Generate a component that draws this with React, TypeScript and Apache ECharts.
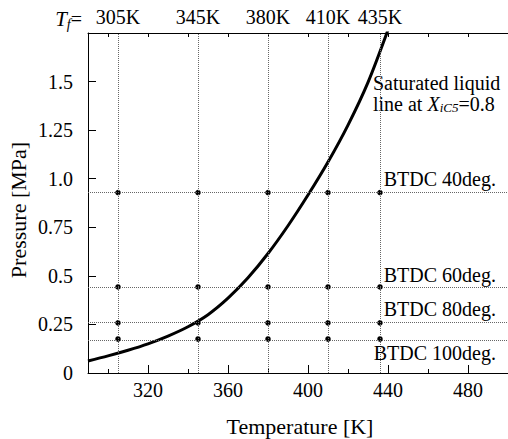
import React, { useEffect, useRef } from 'react';
import * as echarts from 'echarts';

// Saturated liquid line (X_iC5 = 0.8): temperature [K] vs pressure [MPa]
const curveT = [290, 300, 310, 320, 330, 340, 350, 360, 370, 380, 390, 400, 410, 420, 430, 440];
const curveP = [0.062, 0.088, 0.117, 0.150, 0.190, 0.238, 0.300, 0.385, 0.490, 0.615, 0.758, 0.916, 1.086, 1.276, 1.496, 1.766];

// Fuel temperatures Tf (vertical dotted lines)
const tfTemps = [305, 345, 380, 410, 436];
const tfLabels = ['305K', '345K', '380K', '410K', '435K'];

// Pressures at injection timings (horizontal dotted lines)
const btdcP = [0.929, 0.443, 0.258, 0.175];
const btdcLabels = ['BTDC 40deg.', 'BTDC 60deg.', 'BTDC 80deg.', 'BTDC 100deg.'];

// Axis ticks
const xMajor = [320, 360, 400, 440, 480];
const xMinor = [300, 340, 380, 420, 460, 500];
const xTop = [300, 320, 340, 360, 380, 400, 420, 440, 460, 480, 500];

const FONT = 'Liberation Serif';

export default function App() {
  const ref = useRef<HTMLDivElement>(null);
  useEffect(() => {
    const chart = echarts.init(ref.current!, null, { renderer: 'svg' });
    const black = '#000';
    const xBase: any = { type: 'value', min: 290, max: 500, splitLine: { show: false } };
    const dots: number[][] = [];
    tfTemps.forEach((t) => btdcP.forEach((p) => dots.push([t, p])));
    const richLabel = { a: { fontFamily: FONT, fontSize: 20, color: black } };

    chart.setOption({
      animation: false,
      textStyle: { fontFamily: FONT, color: black },
      grid: { left: 88, right: 0, top: 33, bottom: 66 },
      xAxis: [
        {
          ...xBase,
          position: 'bottom',
          axisLine: { show: true, lineStyle: { color: black, width: 1 } },
          axisTick: { show: true, inside: true, length: 8, customValues: xMajor, lineStyle: { color: black } },
          axisLabel: {
            customValues: xMajor,
            formatter: (v: number) => `{a|${v}}`,
            rich: richLabel,
            fontFamily: FONT,
            fontSize: 20,
            color: black,
            margin: 7,
          },
        },
        {
          ...xBase,
          position: 'bottom',
          axisLine: { show: false },
          axisTick: { show: true, inside: true, length: 4, customValues: xMinor, lineStyle: { color: black } },
          axisLabel: { show: false },
        },
        {
          ...xBase,
          position: 'top',
          axisLine: { show: true, lineStyle: { color: black, width: 1 } },
          axisTick: { show: true, inside: true, length: 4, customValues: xTop, lineStyle: { color: black } },
          axisLabel: {
            customValues: tfTemps,
            formatter: (v: number) => `{a|${tfLabels[tfTemps.indexOf(v)] ?? ''}}`,
            rich: richLabel,
            fontFamily: FONT,
            fontSize: 20,
            color: black,
            margin: 6,
          },
        },
      ],
      yAxis: {
        type: 'value',
        min: 0,
        max: 1.75,
        interval: 0.25,
        splitLine: { show: false },
        axisLine: { show: true, lineStyle: { color: black, width: 1 } },
        axisTick: { show: true, inside: true, length: 8, lineStyle: { color: black } },
        axisLabel: {
          fontFamily: FONT,
          fontSize: 20,
          color: black,
          margin: 15,
          rich: richLabel,
          formatter: (v: number) => {
            if (Math.abs(v - 1.75) < 1e-9) return '';
            const s = v === 0 ? '0' : Math.round(v * 4) % 2 === 0 ? v.toFixed(1) : String(v);
            return `{a|${s}}`;
          },
        },
      },
      series: [
        {
          type: 'scatter',
          xAxisIndex: 0,
          yAxisIndex: 0,
          data: dots,
          symbolSize: 5.5,
          itemStyle: { color: black, opacity: 1 },
          z: 2,
          markLine: {
            silent: true,
            symbol: 'none',
            animation: false,
            lineStyle: { type: 'dotted', color: '#666', width: 1 },
            data: [
              ...tfTemps.map((t) => ({ xAxis: t, label: { show: false } })),
              ...btdcP.map((p, i) => ({
                yAxis: p,
                label: {
                  show: true,
                  formatter: btdcLabels[i],
                  position: i === btdcP.length - 1 ? 'insideEndBottom' : 'insideEndTop',
                  fontFamily: FONT,
                  fontSize: 20,
                  color: black,
                  padding: [0, 9, 0, 0],
                  distance: 3,
                },
              })),
            ],
          },
        },
        {
          type: 'line',
          xAxisIndex: 0,
          yAxisIndex: 0,
          data: curveT.map((t, i) => [t, curveP[i]]),
          smooth: 0.3,
          showSymbol: false,
          symbol: 'none',
          lineStyle: { color: black, width: 3 },
          z: 3,
        },
      ],
      graphic: [
        {
          type: 'text',
          x: 82,
          y: 19,
          style: {
            text: '{i|T}{s|f}{n|=}',
            align: 'right',
            verticalAlign: 'middle',
            fontFamily: FONT,
            fontSize: 20,
            fill: black,
            rich: {
              i: { fontFamily: FONT, fontStyle: 'italic', fontSize: 21, lineHeight: 24 },
              s: { fontFamily: FONT, fontStyle: 'italic', fontSize: 14, lineHeight: 10, verticalAlign: 'bottom' },
              n: { fontFamily: FONT, fontSize: 20, lineHeight: 24 },
            },
          },
        },
        {
          type: 'text',
          x: 373,
          y: 72,
          style: {
            text: 'Saturated liquid\nline at {i|X}{s|iC5}=0.8',
            align: 'left',
            verticalAlign: 'top',
            fontFamily: FONT,
            fontSize: 20,
            lineHeight: 21,
            fill: black,
            rich: {
              i: { fontFamily: FONT, fontStyle: 'italic', fontSize: 20, lineHeight: 21 },
              s: { fontFamily: FONT, fontStyle: 'italic', fontSize: 13, lineHeight: 10, verticalAlign: 'bottom' },
            },
          },
        },
        {
          type: 'text',
          x: 300,
          y: 426,
          style: {
            text: '{a|Temperature [K]}',
            align: 'center',
            verticalAlign: 'middle',
            fontFamily: FONT,
            fontSize: 22,
            fill: black,
            rich: { a: { fontFamily: FONT, fontSize: 22 } },
          },
        },
        {
          type: 'text',
          x: 18,
          y: 210,
          rotation: Math.PI / 2,
          style: {
            text: '{a|Pressure [MPa]}',
            align: 'center',
            verticalAlign: 'middle',
            fontFamily: FONT,
            fontSize: 22,
            fill: black,
            rich: { a: { fontFamily: FONT, fontSize: 22 } },
          },
        },
      ],
    });
    return () => chart.dispose();
  }, []);
  return (
    <div
      ref={ref}
      style={{ position: 'fixed', left: 0, top: 0, width: 508, height: 439, background: '#fff' }}
    />
  );
}
